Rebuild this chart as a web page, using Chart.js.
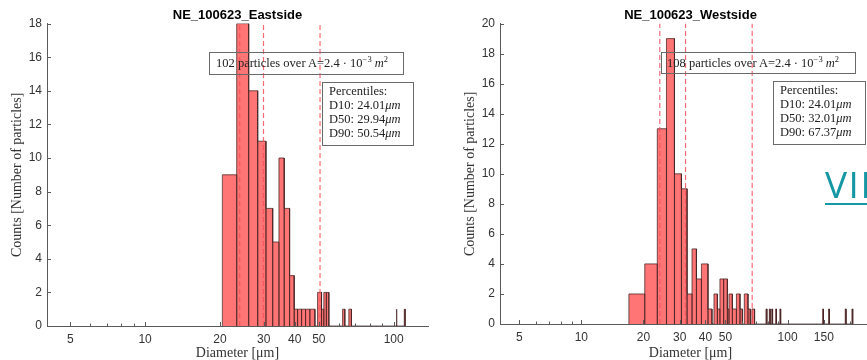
<!DOCTYPE html>
<html>
<head>
<meta charset="utf-8">
<title>NE_100623 particle size distribution</title>
<style>
  html, body { margin: 0; padding: 0; background: #fff; }
  body { position: relative; width: 867px; height: 360px; overflow: hidden; }
  .panel { position: absolute; top: 0; width: 433px; height: 360px; }
  .box { position: absolute; border: 1px solid #6a6a6a; font-family: 'Liberation Serif', serif;
         font-size: 12.5px; color: #222; white-space: nowrap; box-sizing: border-box; }
  .box sup { font-size: 8.5px; vertical-align: 5px; line-height: 0; }
  .box i { font-style: italic; }
  .pct { line-height: 14px; padding: 1px 0 0 6px; }
  .link { position: absolute; left: 825px; top: 158px; font-family: 'Open Sans', sans-serif;
          font-size: 37px; color: #1597a5; text-decoration: underline; letter-spacing: 1.5px;
          text-decoration-thickness: 2px; text-underline-offset: 5px; }
</style>
</head>
<body>
<div class="panel" style="left:0"><canvas id="eastCanvas" width="433" height="360"></canvas></div>
<div class="panel" style="left:453px"><canvas id="westCanvas" width="433" height="360"></canvas></div>

<div class="box" style="left:209px; top:52px; width:195px; height:23px; line-height:21px; padding-left:6px;">102 particles over A=2.4 · 10<sup>−3</sup> <i>m</i><sup>2</sup></div>
<div class="box pct" style="left:322px; top:82px; width:92px; height:64px;">Percentiles:<br>D10: 24.01<i>μm</i><br>D50: 29.94<i>μm</i><br>D90: 50.54<i>μm</i></div>

<div class="box" style="left:661px; top:52px; width:195px; height:22px; line-height:20px; padding-left:5px;">108 particles over A=2.4 · 10<sup>−3</sup> <i>m</i><sup>2</sup></div>
<div class="box pct" style="left:773px; top:81px; width:93px; height:64px;">Percentiles:<br>D10: 24.01<i>μm</i><br>D50: 32.01<i>μm</i><br>D90: 67.37<i>μm</i></div>

<div class="link">VIEW</div>

<script src="https://cdn.jsdelivr.net/npm/chart.js"></script>
<script>
// histogram bins: edges in um, counts per bin (0 = gap)
var eastEdges = [20.45, 23.36, 26.1, 28.37, 30.63, 32.6, 34.55, 36.27, 38.13, 39.79,
                 41.06, 42.6, 44.2, 46.0, 48.2, 49.4, 51.25, 52.35, 53.6, 54.85,
                 62.3, 63.6, 66.0, 67.6, 102.2, 103.1, 110.3, 111.2];
var eastCounts = [9, 18, 14, 11, 7, 5, 10, 7, 3, 1, 1, 1, 1, 1, 0, 2, 1, 2, 2, 0, 1, 0, 1, 0, 1, 0, 1];

var westEdges = [17.0, 20.3, 23.35, 25.87, 28.28, 30.57, 32.56, 34.42, 36.15, 38.22,
                 41.14, 43.0, 43.98, 45.68, 47.0, 49.0, 51.06, 52.0, 54.0, 56.5,
                 58.8, 60.4, 61.7, 64.3, 66.0, 67.2, 69.2, 78.6, 79.4, 81.6,
                 82.4, 83.8, 84.6, 87.6, 88.4, 91.8, 92.6, 148.0, 149.4, 158.2,
                 159.6, 190.5, 192.3, 205.3, 207.1];
var westCounts = [2, 4, 13, 19, 10, 9, 2, 5, 3, 4, 1, 0, 2, 1, 3, 3, 1, 2, 1, 2,
                  1, 0, 2, 1, 0, 1, 0, 1, 0, 1, 0, 1, 0, 1, 0, 1, 0, 1, 0, 1, 0, 1, 0, 1];

// D10, D50, D90
var eastPercentiles = [24.01, 29.94, 50.54];
var westPercentiles = [24.01, 32.01, 67.37];

// x ticks (all tick marks) and the ones that carry a label
var eastTicks = [5, 6, 7, 8, 9, 10, 20, 30, 40, 50, 60, 70, 80, 90, 100];
var eastLabels = [5, 10, 20, 30, 40, 50, 100];
var westTicks = [5, 6, 7, 8, 9, 10, 20, 30, 40, 50, 60, 70, 80, 90, 100, 150, 200];
var westLabels = [5, 10, 20, 30, 40, 50, 100, 150];

var axisColor = '#5a5a5a';
var textColor = '#333';

// matlab style ticks pointing into the plot
var inwardTicks = {
    id: 'inwardTicks',
    afterDraw: function(chart) {
        var ctx = chart.ctx, area = chart.chartArea;
        var x = chart.scales.x, y = chart.scales.y;
        ctx.save();
        ctx.strokeStyle = axisColor;
        ctx.lineWidth = 1;
        ctx.beginPath();
        x.ticks.forEach(function(t) {
            var px = Math.round(x.getPixelForValue(t.value)) + 0.5;
            var len = t.label ? 4 : 2.5;
            ctx.moveTo(px, area.bottom);
            ctx.lineTo(px, area.bottom - len);
        });
        y.ticks.forEach(function(t) {
            var py = Math.round(y.getPixelForValue(t.value)) + 0.5;
            ctx.moveTo(area.left, py);
            ctx.lineTo(area.left + 4, py);
        });
        ctx.stroke();
        ctx.restore();
    }
};

// outline of the histogram as one polygon: up, across, down for every bin
var histOutline = function(edges, counts) {
    var pts = [];
    for (var i = 0; i < counts.length; i++) {
        if (!counts[i]) continue;
        pts.push({x: edges[i], y: 0}, {x: edges[i], y: counts[i]},
                 {x: edges[i + 1], y: counts[i]}, {x: edges[i + 1], y: 0});
    }
    return pts;
};

var makeChart = function(id, title, edges, counts, pct, ticks, labels, xMax, yMax, xAxisHeight) {
    var datasets = pct.map(function(d) {
        return {
            data: [{x: d, y: 0}, {x: d, y: yMax}],
            showLine: true, fill: false, pointRadius: 0,
            borderColor: 'rgba(250,80,90,0.85)', borderWidth: 1.2, borderDash: [5, 3]
        };
    });
    datasets.push({
        data: histOutline(edges, counts),
        showLine: true, fill: 'origin', pointRadius: 0, tension: 0,
        backgroundColor: '#ff7474', borderColor: 'rgba(70,35,35,0.75)', borderWidth: 1
    });

    return new Chart(document.getElementById(id).getContext('2d'), {
        type: 'scatter',
        data: {datasets: datasets},
        plugins: [inwardTicks],
        options: {
            responsive: false,
            animation: false,
            devicePixelRatio: 1,
            layout: {padding: {left: 0, right: 5, top: 0, bottom: 0}},
            plugins: {
                legend: {display: false},
                tooltip: {enabled: false},
                title: {
                    display: true, text: title, fullSize: false, color: '#000',
                    font: {family: 'Liberation Sans', size: 13, weight: 'bold'},
                    padding: {top: 8, bottom: 0}
                }
            },
            scales: {
                x: {
                    type: 'logarithmic', min: 4.03, max: xMax,
                    afterBuildTicks: function(s) {
                        s.ticks = ticks.map(function(v) { return {value: v}; });
                    },
                    afterFit: function(s) { s.height = xAxisHeight; },
                    grid: {display: false, drawTicks: false},
                    border: {display: true, color: axisColor, width: 1},
                    ticks: {
                        autoSkip: false, maxRotation: 0, minRotation: 0, padding: 6,
                        color: textColor, font: {family: 'Liberation Sans', size: 12},
                        callback: function(v) { return labels.indexOf(v) >= 0 ? String(v) : ''; }
                    },
                    title: {
                        display: true, text: 'Diameter [μm]', color: textColor,
                        font: {family: 'Liberation Serif', size: 14},
                        padding: {top: 0, bottom: -2}
                    }
                },
                y: {
                    min: 0, max: yMax,
                    afterFit: function(s) { s.width = 47; },
                    grid: {display: false, drawTicks: false},
                    border: {display: true, color: axisColor, width: 1},
                    ticks: {
                        stepSize: 2, padding: 5, color: textColor,
                        font: {family: 'Liberation Sans', size: 12}
                    },
                    title: {
                        display: true, text: 'Counts [Number of particles]', color: textColor,
                        font: {family: 'Liberation Serif', size: 14},
                        padding: {top: 9, bottom: 0}
                    }
                }
            }
        }
    });
};

makeChart('eastCanvas', 'NE_100623_Eastside', eastEdges, eastCounts, eastPercentiles,
          eastTicks, eastLabels, 137.4, 18, 34);
makeChart('westCanvas', 'NE_100623_Westside', westEdges, westCounts, westPercentiles,
          westTicks, westLabels, 284, 20, 36);
</script>
</body>
</html>
